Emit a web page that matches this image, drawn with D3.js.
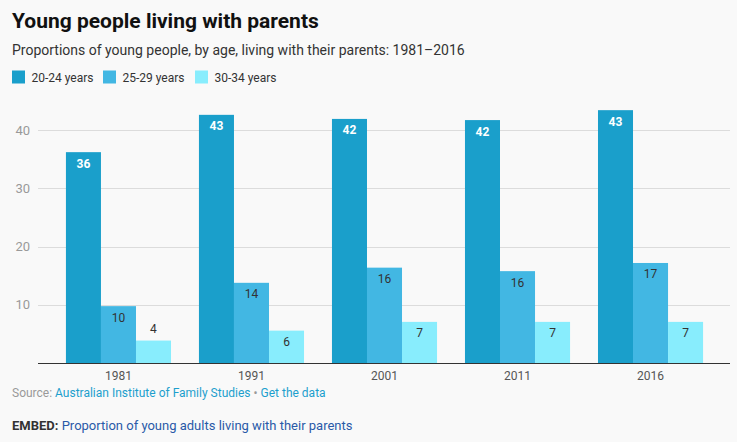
<!DOCTYPE html>
<html>
<head>
<meta charset="utf-8">
<script src="https://cdn.jsdelivr.net/npm/d3@7"></script>
<style>
  html, body { margin: 0; padding: 0; background: #f9f9f9; }
  svg { display: block; font-family: Roboto, "Noto Sans", sans-serif; }
</style>
</head>
<body>
<svg id="chart" width="737" height="442"></svg>
<script>
const years = ["1981", "1991", "2001", "2011", "2016"];
const seriesNames = ["20-24 years", "25-29 years", "30-34 years"];
const age2024 = [36.2, 42.6, 41.9, 41.7, 43.4];
const age2529 = [9.8, 13.8, 16.4, 15.8, 17.2];
const age3034 = [3.9, 5.6, 7.1, 7.1, 7.1];
const yTicks = [10, 20, 30, 40];
const colors = ["#1a9fcb", "#42b7e3", "#88edfd"];
const labelColors = ["#ffffff", "#333333", "#333333"];

const seriesValues = [age2024, age2529, age3034];

const svg = d3.select("#chart");
const W = 737, H = 442;
svg.append("rect").attr("width", W).attr("height", H).attr("fill", "#f9f9f9");

// Header
svg.append("text").attr("x", 12).attr("y", 28)
  .attr("font-size", 21).attr("font-weight", 700).attr("fill", "#111")
  .text("Young people living with parents");
svg.append("text").attr("x", 12).attr("y", 55)
  .attr("font-size", 14).attr("fill", "#333")
  .text("Proportions of young people, by age, living with their parents: 1981–2016");

// Legend
const legendX = [12, 103, 195];
const legend = svg.append("g");
seriesNames.forEach((name, i) => {
  legend.append("rect").attr("x", legendX[i]).attr("y", 70.5)
    .attr("width", 13).attr("height", 13).attr("fill", colors[i]);
  legend.append("text").attr("x", legendX[i] + 19.5).attr("y", 81.5)
    .attr("font-size", 12).attr("fill", "#333").text(name);
});

// Scales
const x0 = d3.scaleBand().domain(years).range([38, 731]).paddingInner(0.21).paddingOuter(0.21);
const x1 = d3.scaleBand().domain(seriesNames).range([0, x0.bandwidth()]);
const y = d3.scaleLinear().domain([0, 40]).range([363.3, 130]);

// Grid
const grid = svg.append("g");
yTicks.forEach(t => {
  grid.append("line").attr("x1", 38).attr("x2", 730)
    .attr("y1", Math.round(y(t)) + 0.5).attr("y2", Math.round(y(t)) + 0.5)
    .attr("stroke", "#dcdcdc").attr("stroke-width", 1);
  grid.append("text").attr("x", 30).attr("y", y(t) + 4.5)
    .attr("text-anchor", "end").attr("font-size", 13).attr("fill", "#999")
    .text(t);
});

// Bars
const groups = svg.append("g").selectAll("g").data(years).join("g")
  .attr("transform", d => `translate(${x0(d)},0)`);

groups.each(function(year, yi) {
  const g = d3.select(this);
  seriesNames.forEach((name, si) => {
    const v = seriesValues[si][yi];
    const bx = x1(name);
    const top = y(v);
    g.append("rect").attr("x", bx).attr("y", top)
      .attr("width", x1.bandwidth()).attr("height", y(0) - top)
      .attr("fill", colors[si]);
    const inside = (y(0) - top) > 30;
    g.append("text")
      .attr("x", bx + x1.bandwidth() / 2)
      .attr("y", inside ? top + 15.5 : top - 8)
      .attr("text-anchor", "middle").attr("font-size", 12)
      .attr("font-weight", si === 0 ? 700 : 400)
      .attr("fill", inside ? labelColors[si] : "#333")
      .text(Math.round(v));
  });
});

// Baseline
svg.append("line").attr("x1", 38).attr("x2", 730)
  .attr("y1", 363.5).attr("y2", 363.5).attr("stroke", "#333").attr("stroke-width", 1);

// X axis labels
years.forEach(yr => {
  svg.append("text").attr("x", x0(yr) + x0.bandwidth() / 2).attr("y", 380)
    .attr("text-anchor", "middle").attr("font-size", 12).attr("fill", "#555")
    .text(yr);
});

// Footer
const src = svg.append("text").attr("x", 12).attr("y", 397).attr("font-size", 12);
src.append("tspan").attr("fill", "#999").text("Source: ");
src.append("tspan").attr("fill", "#1d9fcd").text("Australian Institute of Family Studies");
src.append("tspan").attr("fill", "#999").text(" • ");
src.append("tspan").attr("fill", "#1d9fcd").text("Get the data");

const emb = svg.append("text").attr("x", 12).attr("y", 430).attr("font-size", 13);
emb.append("tspan").attr("fill", "#333").attr("font-weight", 700).text("EMBED: ");
emb.append("tspan").attr("fill", "#2a5aa8").text("Proportion of young adults living with their parents");
</script>
</body>
</html>
